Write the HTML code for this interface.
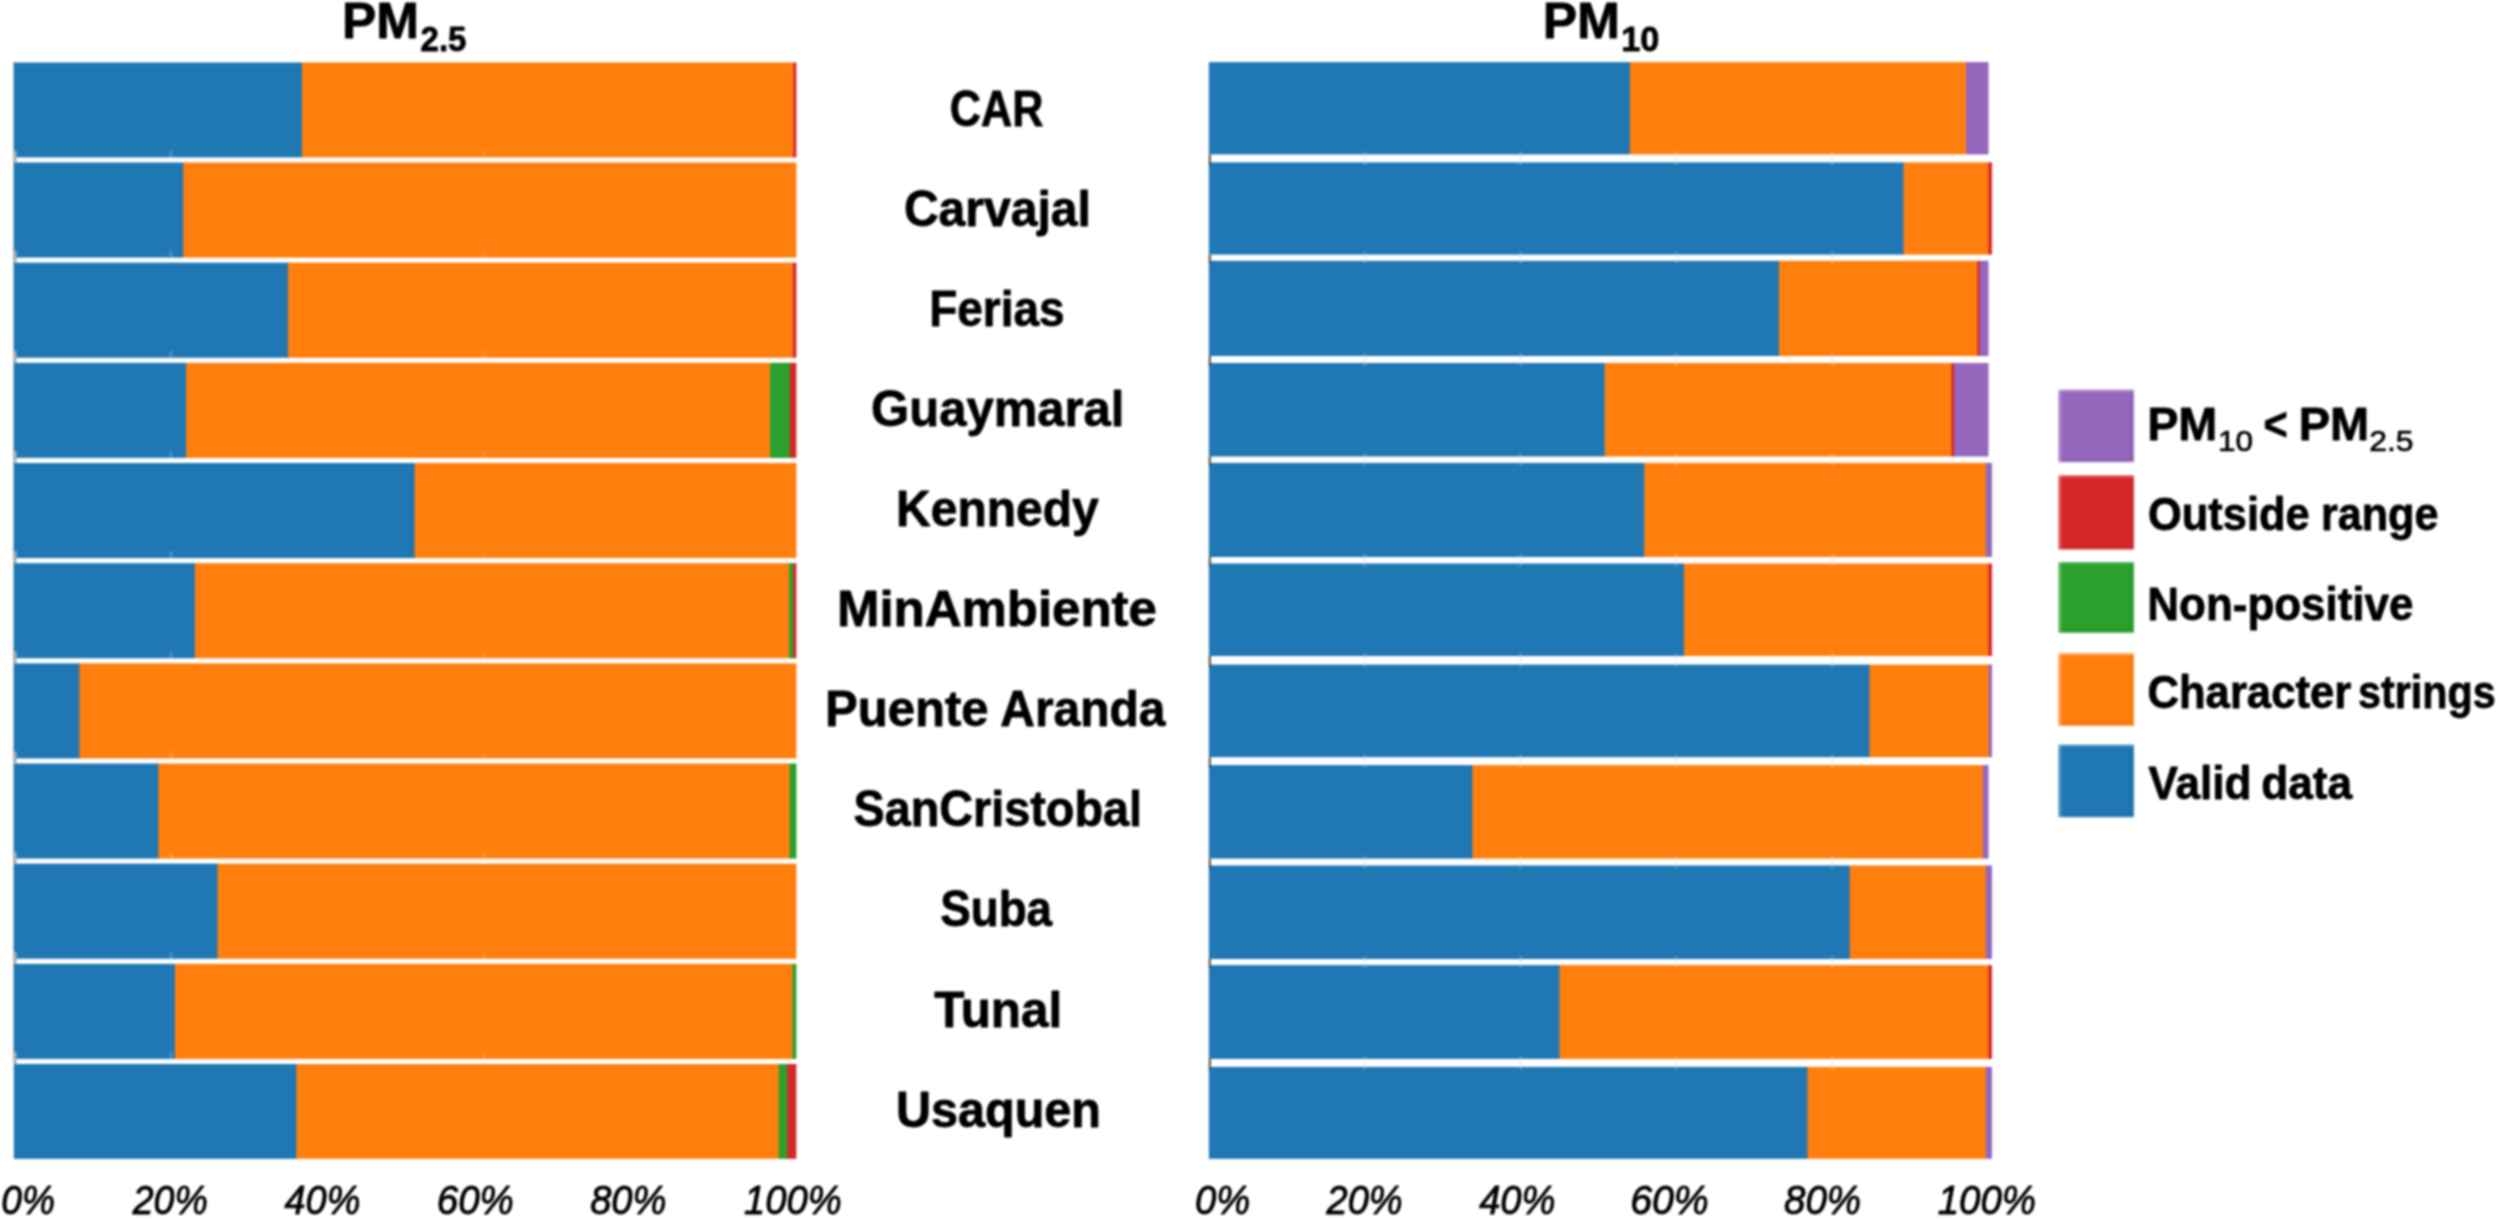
<!DOCTYPE html>
<html lang="en"><head><meta charset="utf-8"><title>PM2.5 / PM10 data validity by station</title>
<style>html,body{margin:0;padding:0;background:#fff}body{width:2500px;height:1219px;overflow:hidden}svg{display:block}text{font-family:"Liberation Sans",sans-serif;fill:#000}.b{font-weight:bold;stroke:#000;stroke-width:0.8px;stroke-linejoin:round}.n{stroke:#000;stroke-width:0.7px;stroke-linejoin:round}.i{font-style:italic;stroke:#000;stroke-width:0.9px;stroke-linejoin:round}</style></head><body>
<svg width="2500" height="1219" viewBox="0 0 2500 1219" role="img" aria-label="Stacked bar charts of data validity for PM2.5 and PM10 by monitoring station">
<defs><filter id="soft" filterUnits="userSpaceOnUse" x="0" y="0" width="2500" height="1219" color-interpolation-filters="sRGB"><feGaussianBlur stdDeviation="1.0"/></filter></defs>
<rect width="2500" height="1219" fill="#fff"/>
<g filter="url(#soft)">
<rect width="2500" height="1219" fill="#fff"/>
<g id="left-axis"><rect x="13.3" y="62" width="2.2" height="1001" fill="#b4b4b4"/></g>
<g id="left-bars"><rect x="13.80" y="62.50" width="288.80" height="94.90" fill="#1f77b4"/><rect x="302.00" y="62.50" width="491.80" height="94.90" fill="#ff7f0e"/><rect x="793.20" y="62.50" width="3.20" height="94.90" fill="#d62728"/><rect x="13.80" y="162.50" width="170.10" height="95.07" fill="#1f77b4"/><rect x="183.30" y="162.50" width="613.10" height="95.07" fill="#ff7f0e"/><rect x="13.80" y="262.67" width="274.80" height="95.07" fill="#1f77b4"/><rect x="288.00" y="262.67" width="505.50" height="95.07" fill="#ff7f0e"/><rect x="792.90" y="262.67" width="3.50" height="95.07" fill="#d62728"/><rect x="13.80" y="362.84" width="173.00" height="95.07" fill="#1f77b4"/><rect x="186.20" y="362.84" width="584.50" height="95.07" fill="#ff7f0e"/><rect x="770.10" y="362.84" width="20.40" height="95.07" fill="#2ca02c"/><rect x="789.90" y="362.84" width="6.50" height="95.07" fill="#d62728"/><rect x="13.80" y="463.01" width="401.40" height="95.07" fill="#1f77b4"/><rect x="414.60" y="463.01" width="381.80" height="95.07" fill="#ff7f0e"/><rect x="13.80" y="563.18" width="181.60" height="95.07" fill="#1f77b4"/><rect x="194.80" y="563.18" width="594.80" height="95.07" fill="#ff7f0e"/><rect x="789.00" y="563.18" width="4.70" height="95.07" fill="#2ca02c"/><rect x="793.10" y="563.18" width="3.30" height="95.07" fill="#d62728"/><rect x="13.80" y="663.35" width="66.20" height="95.07" fill="#1f77b4"/><rect x="79.40" y="663.35" width="717.00" height="95.07" fill="#ff7f0e"/><rect x="13.80" y="763.52" width="145.20" height="95.07" fill="#1f77b4"/><rect x="158.40" y="763.52" width="631.80" height="95.07" fill="#ff7f0e"/><rect x="789.60" y="763.52" width="6.80" height="95.07" fill="#2ca02c"/><rect x="13.80" y="863.69" width="204.30" height="95.07" fill="#1f77b4"/><rect x="217.50" y="863.69" width="578.90" height="95.07" fill="#ff7f0e"/><rect x="13.80" y="963.86" width="161.70" height="95.07" fill="#1f77b4"/><rect x="174.90" y="963.86" width="618.20" height="95.07" fill="#ff7f0e"/><rect x="792.50" y="963.86" width="3.90" height="95.07" fill="#2ca02c"/><rect x="13.80" y="1064.03" width="283.20" height="94.77" fill="#1f77b4"/><rect x="296.40" y="1064.03" width="482.80" height="94.77" fill="#ff7f0e"/><rect x="778.60" y="1064.03" width="9.20" height="94.77" fill="#2ca02c"/><rect x="787.20" y="1064.03" width="9.20" height="94.77" fill="#d62728"/></g>
<g id="left-ticks"><rect x="13.6" y="150.4" width="3.0" height="12.1" fill="#a9adb3"/><rect x="169.4" y="150.4" width="3.4" height="7" fill="#ffffff" fill-opacity="0.17"/><rect x="482.4" y="150.4" width="3.0" height="7" fill="#ffffff" fill-opacity="0.12"/><rect x="13.6" y="250.6" width="3.0" height="12.1" fill="#a9adb3"/><rect x="169.4" y="250.6" width="3.4" height="7" fill="#ffffff" fill-opacity="0.17"/><rect x="482.4" y="250.6" width="3.0" height="7" fill="#ffffff" fill-opacity="0.12"/><rect x="13.6" y="350.7" width="3.0" height="12.1" fill="#a9adb3"/><rect x="169.4" y="350.7" width="3.4" height="7" fill="#ffffff" fill-opacity="0.17"/><rect x="482.4" y="350.7" width="3.0" height="7" fill="#ffffff" fill-opacity="0.12"/><rect x="13.6" y="450.9" width="3.0" height="12.1" fill="#a9adb3"/><rect x="169.4" y="450.9" width="3.4" height="7" fill="#ffffff" fill-opacity="0.17"/><rect x="482.4" y="450.9" width="3.0" height="7" fill="#ffffff" fill-opacity="0.12"/><rect x="13.6" y="551.1" width="3.0" height="12.1" fill="#a9adb3"/><rect x="169.4" y="551.1" width="3.4" height="7" fill="#ffffff" fill-opacity="0.17"/><rect x="482.4" y="551.1" width="3.0" height="7" fill="#ffffff" fill-opacity="0.12"/><rect x="13.6" y="651.2" width="3.0" height="12.1" fill="#a9adb3"/><rect x="169.4" y="651.2" width="3.4" height="7" fill="#ffffff" fill-opacity="0.17"/><rect x="482.4" y="651.2" width="3.0" height="7" fill="#ffffff" fill-opacity="0.12"/><rect x="13.6" y="751.4" width="3.0" height="12.1" fill="#a9adb3"/><rect x="169.4" y="751.4" width="3.4" height="7" fill="#ffffff" fill-opacity="0.17"/><rect x="482.4" y="751.4" width="3.0" height="7" fill="#ffffff" fill-opacity="0.12"/><rect x="13.6" y="851.6" width="3.0" height="12.1" fill="#a9adb3"/><rect x="169.4" y="851.6" width="3.4" height="7" fill="#ffffff" fill-opacity="0.17"/><rect x="482.4" y="851.6" width="3.0" height="7" fill="#ffffff" fill-opacity="0.12"/><rect x="13.6" y="951.8" width="3.0" height="12.1" fill="#a9adb3"/><rect x="169.4" y="951.8" width="3.4" height="7" fill="#ffffff" fill-opacity="0.17"/><rect x="482.4" y="951.8" width="3.0" height="7" fill="#ffffff" fill-opacity="0.12"/><rect x="13.6" y="1051.9" width="3.0" height="12.1" fill="#a9adb3"/><rect x="169.4" y="1051.9" width="3.4" height="7" fill="#ffffff" fill-opacity="0.17"/><rect x="482.4" y="1051.9" width="3.0" height="7" fill="#ffffff" fill-opacity="0.12"/></g>
<g id="right-bars"><rect x="1208.90" y="62.10" width="421.60" height="92.30" fill="#1f77b4"/><rect x="1629.90" y="62.10" width="336.70" height="92.30" fill="#ff7f0e"/><rect x="1966.00" y="62.10" width="22.50" height="92.30" fill="#9467bd"/><rect x="1208.90" y="162.40" width="695.20" height="92.20" fill="#1f77b4"/><rect x="1903.50" y="162.40" width="85.40" height="92.20" fill="#ff7f0e"/><rect x="1988.30" y="162.40" width="3.70" height="92.20" fill="#d62728"/><rect x="1208.90" y="260.80" width="570.70" height="95.20" fill="#1f77b4"/><rect x="1779.00" y="260.80" width="198.80" height="95.20" fill="#ff7f0e"/><rect x="1977.20" y="260.80" width="3.10" height="95.20" fill="#d62728"/><rect x="1979.70" y="260.80" width="8.80" height="95.20" fill="#9467bd"/><rect x="1208.90" y="363.00" width="396.30" height="93.50" fill="#1f77b4"/><rect x="1604.60" y="363.00" width="347.40" height="93.50" fill="#ff7f0e"/><rect x="1951.40" y="363.00" width="3.40" height="93.50" fill="#d62728"/><rect x="1954.20" y="363.00" width="34.30" height="93.50" fill="#9467bd"/><rect x="1208.90" y="462.90" width="436.00" height="94.10" fill="#1f77b4"/><rect x="1644.30" y="462.90" width="342.10" height="94.10" fill="#ff7f0e"/><rect x="1985.80" y="462.90" width="6.20" height="94.10" fill="#9467bd"/><rect x="1208.90" y="563.50" width="475.70" height="92.50" fill="#1f77b4"/><rect x="1684.00" y="563.50" width="304.90" height="92.50" fill="#ff7f0e"/><rect x="1988.30" y="563.50" width="3.70" height="92.50" fill="#d62728"/><rect x="1208.90" y="664.60" width="661.20" height="92.60" fill="#1f77b4"/><rect x="1869.50" y="664.60" width="119.90" height="92.60" fill="#ff7f0e"/><rect x="1988.80" y="664.60" width="3.20" height="92.60" fill="#9467bd"/><rect x="1208.90" y="765.10" width="264.10" height="93.50" fill="#1f77b4"/><rect x="1472.40" y="765.10" width="511.00" height="93.50" fill="#ff7f0e"/><rect x="1982.80" y="765.10" width="5.70" height="93.50" fill="#9467bd"/><rect x="1208.90" y="865.50" width="641.40" height="93.50" fill="#1f77b4"/><rect x="1849.70" y="865.50" width="136.70" height="93.50" fill="#ff7f0e"/><rect x="1985.80" y="865.50" width="6.20" height="93.50" fill="#9467bd"/><rect x="1208.90" y="965.10" width="351.20" height="93.80" fill="#1f77b4"/><rect x="1559.50" y="965.10" width="429.40" height="93.80" fill="#ff7f0e"/><rect x="1988.30" y="965.10" width="3.70" height="93.80" fill="#d62728"/><rect x="1208.90" y="1066.90" width="599.20" height="91.90" fill="#1f77b4"/><rect x="1807.50" y="1066.90" width="178.90" height="91.90" fill="#ff7f0e"/><rect x="1985.80" y="1066.90" width="6.20" height="91.90" fill="#9467bd"/></g>
<g id="right-ticks"><rect x="1208.8" y="154.4" width="2.0" height="11.0" fill="#454545"/><rect x="1363.6" y="151.4" width="2.4" height="3" fill="#fff" fill-opacity="0.22"/><rect x="1363.6" y="154.4" width="2.4" height="8.0" fill="#d9dde2" fill-opacity="0.35"/><rect x="1363.6" y="162.4" width="2.4" height="3" fill="#fff" fill-opacity="0.22"/><rect x="1519.5" y="151.4" width="2.4" height="3" fill="#fff" fill-opacity="0.22"/><rect x="1519.5" y="154.4" width="2.4" height="8.0" fill="#d9dde2" fill-opacity="0.35"/><rect x="1519.5" y="162.4" width="2.4" height="3" fill="#fff" fill-opacity="0.22"/><rect x="1675.3" y="151.4" width="2.4" height="3" fill="#fff" fill-opacity="0.22"/><rect x="1675.3" y="154.4" width="2.4" height="8.0" fill="#d9dde2" fill-opacity="0.35"/><rect x="1675.3" y="162.4" width="2.4" height="3" fill="#fff" fill-opacity="0.22"/><rect x="1831.2" y="151.4" width="2.4" height="3" fill="#fff" fill-opacity="0.22"/><rect x="1831.2" y="154.4" width="2.4" height="8.0" fill="#d9dde2" fill-opacity="0.35"/><rect x="1831.2" y="162.4" width="2.4" height="3" fill="#fff" fill-opacity="0.22"/><rect x="1208.8" y="254.6" width="2.0" height="9.2" fill="#454545"/><rect x="1363.6" y="251.6" width="2.4" height="3" fill="#fff" fill-opacity="0.22"/><rect x="1363.6" y="254.6" width="2.4" height="6.2" fill="#d9dde2" fill-opacity="0.35"/><rect x="1363.6" y="260.8" width="2.4" height="3" fill="#fff" fill-opacity="0.22"/><rect x="1519.5" y="251.6" width="2.4" height="3" fill="#fff" fill-opacity="0.22"/><rect x="1519.5" y="254.6" width="2.4" height="6.2" fill="#d9dde2" fill-opacity="0.35"/><rect x="1519.5" y="260.8" width="2.4" height="3" fill="#fff" fill-opacity="0.22"/><rect x="1675.3" y="251.6" width="2.4" height="3" fill="#fff" fill-opacity="0.22"/><rect x="1675.3" y="254.6" width="2.4" height="6.2" fill="#d9dde2" fill-opacity="0.35"/><rect x="1675.3" y="260.8" width="2.4" height="3" fill="#fff" fill-opacity="0.22"/><rect x="1831.2" y="251.6" width="2.4" height="3" fill="#fff" fill-opacity="0.22"/><rect x="1831.2" y="254.6" width="2.4" height="6.2" fill="#d9dde2" fill-opacity="0.35"/><rect x="1831.2" y="260.8" width="2.4" height="3" fill="#fff" fill-opacity="0.22"/><rect x="1208.8" y="356.0" width="2.0" height="10.0" fill="#454545"/><rect x="1363.6" y="353.0" width="2.4" height="3" fill="#fff" fill-opacity="0.22"/><rect x="1363.6" y="356.0" width="2.4" height="7.0" fill="#d9dde2" fill-opacity="0.35"/><rect x="1363.6" y="363.0" width="2.4" height="3" fill="#fff" fill-opacity="0.22"/><rect x="1519.5" y="353.0" width="2.4" height="3" fill="#fff" fill-opacity="0.22"/><rect x="1519.5" y="356.0" width="2.4" height="7.0" fill="#d9dde2" fill-opacity="0.35"/><rect x="1519.5" y="363.0" width="2.4" height="3" fill="#fff" fill-opacity="0.22"/><rect x="1675.3" y="353.0" width="2.4" height="3" fill="#fff" fill-opacity="0.22"/><rect x="1675.3" y="356.0" width="2.4" height="7.0" fill="#d9dde2" fill-opacity="0.35"/><rect x="1675.3" y="363.0" width="2.4" height="3" fill="#fff" fill-opacity="0.22"/><rect x="1831.2" y="353.0" width="2.4" height="3" fill="#fff" fill-opacity="0.22"/><rect x="1831.2" y="356.0" width="2.4" height="7.0" fill="#d9dde2" fill-opacity="0.35"/><rect x="1831.2" y="363.0" width="2.4" height="3" fill="#fff" fill-opacity="0.22"/><rect x="1208.8" y="456.5" width="2.0" height="9.4" fill="#454545"/><rect x="1363.6" y="453.5" width="2.4" height="3" fill="#fff" fill-opacity="0.22"/><rect x="1363.6" y="456.5" width="2.4" height="6.4" fill="#d9dde2" fill-opacity="0.35"/><rect x="1363.6" y="462.9" width="2.4" height="3" fill="#fff" fill-opacity="0.22"/><rect x="1519.5" y="453.5" width="2.4" height="3" fill="#fff" fill-opacity="0.22"/><rect x="1519.5" y="456.5" width="2.4" height="6.4" fill="#d9dde2" fill-opacity="0.35"/><rect x="1519.5" y="462.9" width="2.4" height="3" fill="#fff" fill-opacity="0.22"/><rect x="1675.3" y="453.5" width="2.4" height="3" fill="#fff" fill-opacity="0.22"/><rect x="1675.3" y="456.5" width="2.4" height="6.4" fill="#d9dde2" fill-opacity="0.35"/><rect x="1675.3" y="462.9" width="2.4" height="3" fill="#fff" fill-opacity="0.22"/><rect x="1831.2" y="453.5" width="2.4" height="3" fill="#fff" fill-opacity="0.22"/><rect x="1831.2" y="456.5" width="2.4" height="6.4" fill="#d9dde2" fill-opacity="0.35"/><rect x="1831.2" y="462.9" width="2.4" height="3" fill="#fff" fill-opacity="0.22"/><rect x="1208.8" y="557.0" width="2.0" height="9.5" fill="#454545"/><rect x="1363.6" y="554.0" width="2.4" height="3" fill="#fff" fill-opacity="0.22"/><rect x="1363.6" y="557.0" width="2.4" height="6.5" fill="#d9dde2" fill-opacity="0.35"/><rect x="1363.6" y="563.5" width="2.4" height="3" fill="#fff" fill-opacity="0.22"/><rect x="1519.5" y="554.0" width="2.4" height="3" fill="#fff" fill-opacity="0.22"/><rect x="1519.5" y="557.0" width="2.4" height="6.5" fill="#d9dde2" fill-opacity="0.35"/><rect x="1519.5" y="563.5" width="2.4" height="3" fill="#fff" fill-opacity="0.22"/><rect x="1675.3" y="554.0" width="2.4" height="3" fill="#fff" fill-opacity="0.22"/><rect x="1675.3" y="557.0" width="2.4" height="6.5" fill="#d9dde2" fill-opacity="0.35"/><rect x="1675.3" y="563.5" width="2.4" height="3" fill="#fff" fill-opacity="0.22"/><rect x="1831.2" y="554.0" width="2.4" height="3" fill="#fff" fill-opacity="0.22"/><rect x="1831.2" y="557.0" width="2.4" height="6.5" fill="#d9dde2" fill-opacity="0.35"/><rect x="1831.2" y="563.5" width="2.4" height="3" fill="#fff" fill-opacity="0.22"/><rect x="1208.8" y="656.0" width="2.0" height="11.6" fill="#454545"/><rect x="1363.6" y="653.0" width="2.4" height="3" fill="#fff" fill-opacity="0.22"/><rect x="1363.6" y="656.0" width="2.4" height="8.6" fill="#d9dde2" fill-opacity="0.35"/><rect x="1363.6" y="664.6" width="2.4" height="3" fill="#fff" fill-opacity="0.22"/><rect x="1519.5" y="653.0" width="2.4" height="3" fill="#fff" fill-opacity="0.22"/><rect x="1519.5" y="656.0" width="2.4" height="8.6" fill="#d9dde2" fill-opacity="0.35"/><rect x="1519.5" y="664.6" width="2.4" height="3" fill="#fff" fill-opacity="0.22"/><rect x="1675.3" y="653.0" width="2.4" height="3" fill="#fff" fill-opacity="0.22"/><rect x="1675.3" y="656.0" width="2.4" height="8.6" fill="#d9dde2" fill-opacity="0.35"/><rect x="1675.3" y="664.6" width="2.4" height="3" fill="#fff" fill-opacity="0.22"/><rect x="1831.2" y="653.0" width="2.4" height="3" fill="#fff" fill-opacity="0.22"/><rect x="1831.2" y="656.0" width="2.4" height="8.6" fill="#d9dde2" fill-opacity="0.35"/><rect x="1831.2" y="664.6" width="2.4" height="3" fill="#fff" fill-opacity="0.22"/><rect x="1208.8" y="757.2" width="2.0" height="10.9" fill="#454545"/><rect x="1363.6" y="754.2" width="2.4" height="3" fill="#fff" fill-opacity="0.22"/><rect x="1363.6" y="757.2" width="2.4" height="7.9" fill="#d9dde2" fill-opacity="0.35"/><rect x="1363.6" y="765.1" width="2.4" height="3" fill="#fff" fill-opacity="0.22"/><rect x="1519.5" y="754.2" width="2.4" height="3" fill="#fff" fill-opacity="0.22"/><rect x="1519.5" y="757.2" width="2.4" height="7.9" fill="#d9dde2" fill-opacity="0.35"/><rect x="1519.5" y="765.1" width="2.4" height="3" fill="#fff" fill-opacity="0.22"/><rect x="1675.3" y="754.2" width="2.4" height="3" fill="#fff" fill-opacity="0.22"/><rect x="1675.3" y="757.2" width="2.4" height="7.9" fill="#d9dde2" fill-opacity="0.35"/><rect x="1675.3" y="765.1" width="2.4" height="3" fill="#fff" fill-opacity="0.22"/><rect x="1831.2" y="754.2" width="2.4" height="3" fill="#fff" fill-opacity="0.22"/><rect x="1831.2" y="757.2" width="2.4" height="7.9" fill="#d9dde2" fill-opacity="0.35"/><rect x="1831.2" y="765.1" width="2.4" height="3" fill="#fff" fill-opacity="0.22"/><rect x="1208.8" y="858.6" width="2.0" height="9.9" fill="#454545"/><rect x="1363.6" y="855.6" width="2.4" height="3" fill="#fff" fill-opacity="0.22"/><rect x="1363.6" y="858.6" width="2.4" height="6.9" fill="#d9dde2" fill-opacity="0.35"/><rect x="1363.6" y="865.5" width="2.4" height="3" fill="#fff" fill-opacity="0.22"/><rect x="1519.5" y="855.6" width="2.4" height="3" fill="#fff" fill-opacity="0.22"/><rect x="1519.5" y="858.6" width="2.4" height="6.9" fill="#d9dde2" fill-opacity="0.35"/><rect x="1519.5" y="865.5" width="2.4" height="3" fill="#fff" fill-opacity="0.22"/><rect x="1675.3" y="855.6" width="2.4" height="3" fill="#fff" fill-opacity="0.22"/><rect x="1675.3" y="858.6" width="2.4" height="6.9" fill="#d9dde2" fill-opacity="0.35"/><rect x="1675.3" y="865.5" width="2.4" height="3" fill="#fff" fill-opacity="0.22"/><rect x="1831.2" y="855.6" width="2.4" height="3" fill="#fff" fill-opacity="0.22"/><rect x="1831.2" y="858.6" width="2.4" height="6.9" fill="#d9dde2" fill-opacity="0.35"/><rect x="1831.2" y="865.5" width="2.4" height="3" fill="#fff" fill-opacity="0.22"/><rect x="1208.8" y="959.0" width="2.0" height="9.1" fill="#454545"/><rect x="1363.6" y="956.0" width="2.4" height="3" fill="#fff" fill-opacity="0.22"/><rect x="1363.6" y="959.0" width="2.4" height="6.1" fill="#d9dde2" fill-opacity="0.35"/><rect x="1363.6" y="965.1" width="2.4" height="3" fill="#fff" fill-opacity="0.22"/><rect x="1519.5" y="956.0" width="2.4" height="3" fill="#fff" fill-opacity="0.22"/><rect x="1519.5" y="959.0" width="2.4" height="6.1" fill="#d9dde2" fill-opacity="0.35"/><rect x="1519.5" y="965.1" width="2.4" height="3" fill="#fff" fill-opacity="0.22"/><rect x="1675.3" y="956.0" width="2.4" height="3" fill="#fff" fill-opacity="0.22"/><rect x="1675.3" y="959.0" width="2.4" height="6.1" fill="#d9dde2" fill-opacity="0.35"/><rect x="1675.3" y="965.1" width="2.4" height="3" fill="#fff" fill-opacity="0.22"/><rect x="1831.2" y="956.0" width="2.4" height="3" fill="#fff" fill-opacity="0.22"/><rect x="1831.2" y="959.0" width="2.4" height="6.1" fill="#d9dde2" fill-opacity="0.35"/><rect x="1831.2" y="965.1" width="2.4" height="3" fill="#fff" fill-opacity="0.22"/><rect x="1208.8" y="1058.9" width="2.0" height="11.0" fill="#454545"/><rect x="1363.6" y="1055.9" width="2.4" height="3" fill="#fff" fill-opacity="0.22"/><rect x="1363.6" y="1058.9" width="2.4" height="8.0" fill="#d9dde2" fill-opacity="0.35"/><rect x="1363.6" y="1066.9" width="2.4" height="3" fill="#fff" fill-opacity="0.22"/><rect x="1519.5" y="1055.9" width="2.4" height="3" fill="#fff" fill-opacity="0.22"/><rect x="1519.5" y="1058.9" width="2.4" height="8.0" fill="#d9dde2" fill-opacity="0.35"/><rect x="1519.5" y="1066.9" width="2.4" height="3" fill="#fff" fill-opacity="0.22"/><rect x="1675.3" y="1055.9" width="2.4" height="3" fill="#fff" fill-opacity="0.22"/><rect x="1675.3" y="1058.9" width="2.4" height="8.0" fill="#d9dde2" fill-opacity="0.35"/><rect x="1675.3" y="1066.9" width="2.4" height="3" fill="#fff" fill-opacity="0.22"/><rect x="1831.2" y="1055.9" width="2.4" height="3" fill="#fff" fill-opacity="0.22"/><rect x="1831.2" y="1058.9" width="2.4" height="8.0" fill="#d9dde2" fill-opacity="0.35"/><rect x="1831.2" y="1066.9" width="2.4" height="3" fill="#fff" fill-opacity="0.22"/></g>
<g id="legend-swatches"><rect x="2058.5" y="389.7" width="75.6" height="72.6" fill="#9467bd"/><rect x="2058.5" y="389.7" width="3.2" height="72.6" fill="#fff" fill-opacity="0.2"/><rect x="2058.5" y="389.7" width="75.6" height="2.4" fill="#fff" fill-opacity="0.18"/><rect x="2129.6" y="392.1" width="3" height="67.8" fill="#000" fill-opacity="0.05"/><rect x="2061.7" y="457.8" width="70.9" height="3" fill="#000" fill-opacity="0.05"/><rect x="2132.6" y="389.7" width="1.5" height="72.6" fill="#fff" fill-opacity="0.18"/><rect x="2058.5" y="460.8" width="75.6" height="1.5" fill="#fff" fill-opacity="0.18"/><rect x="2058.5" y="475.3" width="75.6" height="74.3" fill="#d62728"/><rect x="2058.5" y="475.3" width="3.2" height="74.3" fill="#fff" fill-opacity="0.2"/><rect x="2058.5" y="475.3" width="75.6" height="2.4" fill="#fff" fill-opacity="0.18"/><rect x="2129.6" y="477.7" width="3" height="69.5" fill="#000" fill-opacity="0.05"/><rect x="2061.7" y="545.1" width="70.9" height="3" fill="#000" fill-opacity="0.05"/><rect x="2132.6" y="475.3" width="1.5" height="74.3" fill="#fff" fill-opacity="0.18"/><rect x="2058.5" y="548.1" width="75.6" height="1.5" fill="#fff" fill-opacity="0.18"/><rect x="2058.5" y="562.0" width="75.6" height="70.9" fill="#2ca02c"/><rect x="2058.5" y="562.0" width="3.2" height="70.9" fill="#fff" fill-opacity="0.2"/><rect x="2058.5" y="562.0" width="75.6" height="2.4" fill="#fff" fill-opacity="0.18"/><rect x="2129.6" y="564.4" width="3" height="66.1" fill="#000" fill-opacity="0.05"/><rect x="2061.7" y="628.4" width="70.9" height="3" fill="#000" fill-opacity="0.05"/><rect x="2132.6" y="562.0" width="1.5" height="70.9" fill="#fff" fill-opacity="0.18"/><rect x="2058.5" y="631.4" width="75.6" height="1.5" fill="#fff" fill-opacity="0.18"/><rect x="2058.5" y="653.4" width="75.6" height="72.6" fill="#ff7f0e"/><rect x="2058.5" y="653.4" width="3.2" height="72.6" fill="#fff" fill-opacity="0.2"/><rect x="2058.5" y="653.4" width="75.6" height="2.4" fill="#fff" fill-opacity="0.18"/><rect x="2129.6" y="655.8" width="3" height="67.8" fill="#000" fill-opacity="0.05"/><rect x="2061.7" y="721.5" width="70.9" height="3" fill="#000" fill-opacity="0.05"/><rect x="2132.6" y="653.4" width="1.5" height="72.6" fill="#fff" fill-opacity="0.18"/><rect x="2058.5" y="724.5" width="75.6" height="1.5" fill="#fff" fill-opacity="0.18"/><rect x="2058.5" y="744.7" width="75.6" height="72.6" fill="#1f77b4"/><rect x="2058.5" y="744.7" width="3.2" height="72.6" fill="#fff" fill-opacity="0.2"/><rect x="2058.5" y="744.7" width="75.6" height="2.4" fill="#fff" fill-opacity="0.18"/><rect x="2129.6" y="747.1" width="3" height="67.8" fill="#000" fill-opacity="0.05"/><rect x="2061.7" y="812.8" width="70.9" height="3" fill="#000" fill-opacity="0.05"/><rect x="2132.6" y="744.7" width="1.5" height="72.6" fill="#fff" fill-opacity="0.18"/><rect x="2058.5" y="815.8" width="75.6" height="1.5" fill="#fff" fill-opacity="0.18"/></g>
<g id="labels"><text class="b"><tspan class="b" font-size="50.0" x="342.02" y="38.30" textLength="77.07" lengthAdjust="spacingAndGlyphs">PM</tspan><tspan class="b" font-size="34.8" x="420.59" y="50.50" textLength="45.90" lengthAdjust="spacingAndGlyphs">2.5</tspan></text>
<text class="b"><tspan class="b" font-size="50.0" x="1542.71" y="38.30" textLength="77.28" lengthAdjust="spacingAndGlyphs">PM</tspan><tspan class="b" font-size="34.8" x="1621.28" y="50.50" textLength="38.07" lengthAdjust="spacingAndGlyphs">10</tspan></text>
<text class="b"><tspan class="b" font-size="45.5" x="2147.17" y="439.90" textLength="70.20" lengthAdjust="spacingAndGlyphs">PM</tspan><tspan class="n" font-weight="normal" font-size="30.0" x="2217.90" y="451.00" textLength="35.02" lengthAdjust="spacingAndGlyphs">10</tspan> <tspan class="b" font-size="45.5" x="2263.43" y="439.90" textLength="24.20" lengthAdjust="spacingAndGlyphs">&lt;</tspan> <tspan class="b" font-size="45.5" x="2298.76" y="439.90" textLength="70.42" lengthAdjust="spacingAndGlyphs">PM</tspan><tspan class="n" font-weight="normal" font-size="30.0" x="2369.27" y="451.00" textLength="44.36" lengthAdjust="spacingAndGlyphs">2.5</tspan></text>
<text class="b" font-size="50.0" transform="translate(949.69 126.00) scale(0.8651 1)">CAR</text>
<text class="b" font-size="50.0" transform="translate(903.92 226.00) scale(0.9613 1)">Carvajal</text>
<text class="b" font-size="50.0" transform="translate(929.24 326.00) scale(0.9191 1)">Ferias</text>
<text class="b" font-size="50.0" transform="translate(871.08 426.00) scale(0.9803 1)">Guaymaral</text>
<text class="b" font-size="50.0" transform="translate(896.02 526.00) scale(0.9604 1)">Kennedy</text>
<text class="b" font-size="50.0" transform="translate(836.94 626.00) scale(1.0194 1)">MinAmbiente</text>
<text class="b" font-size="50.0" y="726.00"><tspan x="825.06" textLength="163.57" lengthAdjust="spacingAndGlyphs">Puente</tspan> <tspan x="1000.34" textLength="164.95" lengthAdjust="spacingAndGlyphs">Aranda</tspan></text>
<text class="b" font-size="50.0" transform="translate(853.46 826.20) scale(0.9361 1)">SanCristobal</text>
<text class="b" font-size="50.0" transform="translate(940.18 926.30) scale(0.9156 1)">Suba</text>
<text class="b" font-size="50.0" transform="translate(934.15 1026.60) scale(0.9885 1)">Tunal</text>
<text class="b" font-size="50.0" transform="translate(895.97 1126.80) scale(0.9709 1)">Usaquen</text>
<text class="i" font-size="40.5" transform="translate(1.35 1213.90) scale(0.9161 1)">0%</text>
<text class="i" font-size="40.5" transform="translate(132.70 1213.90) scale(0.9267 1)">20%</text>
<text class="i" font-size="40.5" transform="translate(284.53 1213.90) scale(0.9350 1)">40%</text>
<text class="i" font-size="40.5" transform="translate(436.74 1213.90) scale(0.9513 1)">60%</text>
<text class="i" font-size="40.5" transform="translate(590.13 1213.90) scale(0.9413 1)">80%</text>
<text class="i" font-size="40.5" transform="translate(744.03 1213.90) scale(0.9435 1)">100%</text>
<text class="i" font-size="40.5" transform="translate(1195.02 1213.90) scale(0.9429 1)">0%</text>
<text class="i" font-size="40.5" transform="translate(1326.50 1213.90) scale(0.9391 1)">20%</text>
<text class="i" font-size="40.5" transform="translate(1479.14 1213.90) scale(0.9425 1)">40%</text>
<text class="i" font-size="40.5" transform="translate(1630.20 1213.90) scale(0.9692 1)">60%</text>
<text class="i" font-size="40.5" transform="translate(1784.02 1213.90) scale(0.9514 1)">80%</text>
<text class="i" font-size="40.5" transform="translate(1937.73 1213.90) scale(0.9494 1)">100%</text>
<text class="b" font-size="45.5" y="529.70"><tspan x="2148.07" textLength="161.62" lengthAdjust="spacingAndGlyphs">Outside</tspan> <tspan x="2320.93" textLength="117.57" lengthAdjust="spacingAndGlyphs">range</tspan></text>
<text class="b" font-size="45.5" transform="translate(2147.34 619.50) scale(0.9663 1)">Non-positive</text>
<text class="b" font-size="45.5" y="708.20"><tspan x="2147.46" textLength="203.72" lengthAdjust="spacingAndGlyphs">Character</tspan> <tspan x="2358.06" textLength="137.75" lengthAdjust="spacingAndGlyphs">strings</tspan></text>
<text class="b" font-size="45.5" y="799.00"><tspan x="2148.60" textLength="102.83" lengthAdjust="spacingAndGlyphs">Valid</tspan> <tspan x="2261.14" textLength="90.99" lengthAdjust="spacingAndGlyphs">data</tspan></text></g>
</g>
</svg></body></html>
